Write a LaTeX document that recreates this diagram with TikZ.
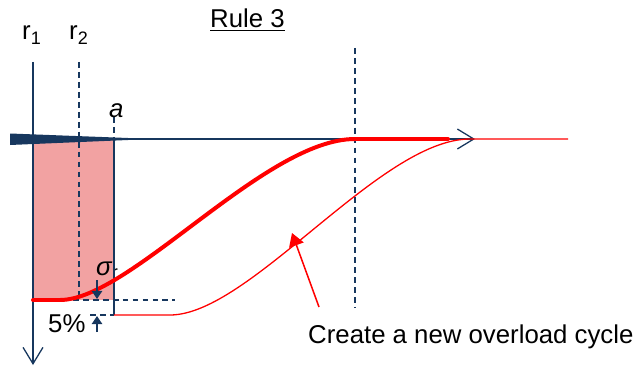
\documentclass[tikz,border=0pt]{standalone}
\usepackage{fontspec}
\setmainfont{Liberation Sans}
\usepackage{tikz}
\usepackage{xcolor}
\usetikzlibrary{arrows.meta,calc,positioning}
\definecolor{axisnavy}{RGB}{23,55,94}
\definecolor{loadred}{RGB}{255,0,0}
\definecolor{zonepink}{RGB}{242,162,162}

\tikzset{
  lbl/.style={inner sep=0pt, anchor=base west, font=\fontsize{22}{26}\selectfont},
  guide/.style={axisnavy, line width=1.3pt, dash pattern=on 5pt off 3.5pt},
  axisline/.style={axisnavy, line width=1.1pt},
  tinyarrow/.style={axisnavy, line width=1.3pt, -{Triangle[length=7pt,width=9pt]}}
}

\begin{document}
\begin{tikzpicture}[x=0.03cm, y=-0.03cm]
\useasboundingbox (0,0) rectangle (642,367);

%% ── PLASTIC ZONE: shaded band between r1 and a ────────────────────────────
\fill[zonepink] (33,140) rectangle (114,300);

%% ── GUIDE LINES (dashed) ──────────────────────────────────────────────────
\coordinate (r2top) at (79,62);
\coordinate (r2bot) at (79,300);
\draw[guide] (r2top) -- (r2bot);
\draw[guide] (114,117) -- (114,139);            % crack tip a
\draw[guide] (33,300) -- (175,300);             % sigma_r level
\draw[guide] (90,315) -- (114,315);             % 5% level
\draw[guide] (355,48) -- (355,307);             % end of retardation

%% ── SIGMA LABEL (sits behind the zone edge) ───────────────────────────────
\node[lbl] (sigr) at (96,275) {{\itshape σ}\textsubscript{r}};

%% ── AXES ──────────────────────────────────────────────────────────────────
\coordinate (origin) at (33,139);
\draw[axisline, -{Straight Barb[length=14pt,width=17pt]}]
  (33,62) -- (33,365);
\draw[axisline, -{Straight Barb[length=14pt,width=17pt]}]
  (10,139) -- (475,139);
% tapered crack wedge
\fill[axisnavy] (10,133.5) -- (128,138) -- (128,140) -- (10,145) -- cycle;
% right edge of the zone
\draw[axisline] (114,139) -- (114,315);

%% ── STRESS CURVES ─────────────────────────────────────────────────────────
% first overload
\draw[loadred, line width=3.4pt, line cap=round]
  (33,300) -- (60,300) .. controls (130,300) and (265,139) .. (355,139)
  -- (448,139);
% new overload cycle
\draw[loadred, line width=1.1pt]
  (114,315) -- (170,315) .. controls (250,315) and (380,139) .. (470,139)
  -- (568,139);

%% ── SMALL MARKERS: sigma_r and 5% ─────────────────────────────────────────
\draw[tinyarrow] (97,280) -- (97,299);
\draw[tinyarrow] (97,332) -- (97,316);

%% ── LABELS ────────────────────────────────────────────────────────────────
\node[lbl] (title) at (210,28) {\underline{Rule 3}};
\node[lbl] (rone) at (22,40) {r\textsubscript{1}};
\node[lbl] (rtwo) at (69,40) {r\textsubscript{2}};
\node[lbl] (tipa) at (109,117) {\itshape a};
\node[lbl] (pct) at (48,332) {5\%};
\node[lbl] (note) at (308,343) {Create a new overload cycle};

% pointer from the note to the new curve
\coordinate (tail) at (319,307);
\coordinate (hit) at (292,233);
\draw[loadred, line width=1.3pt, -{Triangle[length=11pt,width=13pt]}]
  (tail) -- (hit);

\end{tikzpicture}
\end{document}
